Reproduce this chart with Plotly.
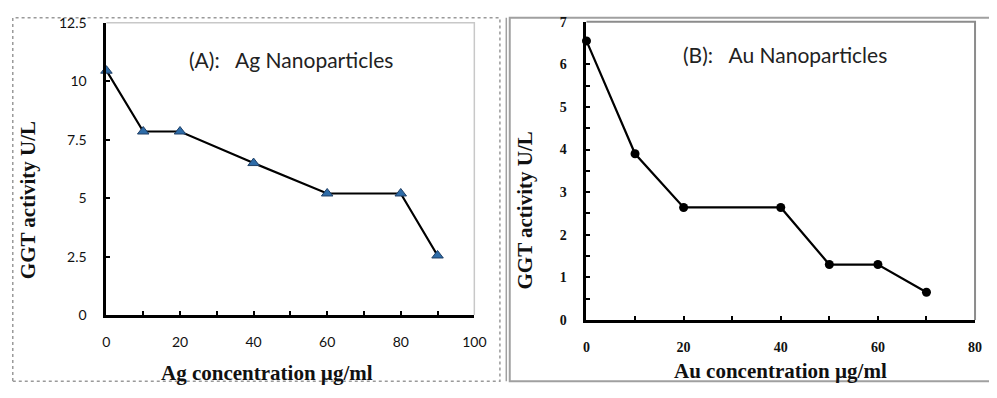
import plotly.graph_objects as go

# Panel A: Ag nanoparticles
ag_conc = [0, 10, 20, 40, 60, 80, 90]
ag_ggt = [10.45, 7.85, 7.85, 6.5, 5.2, 5.2, 2.55]
# Panel B: Au nanoparticles
au_conc = [0, 10, 20, 40, 50, 60, 70]
au_ggt = [6.55, 3.9, 2.64, 2.64, 1.3, 1.3, 0.65]

ag_yticks = [0, 2.5, 5, 7.5, 10, 12.5]
ag_ylabels = ["0", "2.5", "5", "7.5", "10", "12.5"]
ag_xticks = [0, 20, 40, 60, 80, 100]
au_yticks = [0, 1, 2, 3, 4, 5, 6, 7]
au_xticks = [0, 20, 40, 60, 80]

# figure sized so that page (with the browser's 8px body margin) is 997x398
OFF = 8
W, H = 997 - 2 * OFF, 398 - 2 * OFF
def px(x):
    return min(max((x - OFF) / W, 0.0008), 0.9992)
def py(y):
    return min(max(1 - (y - OFF) / H, 0.002), 0.998)

fig = go.Figure()
fig.add_trace(go.Scatter(
    x=ag_conc, y=ag_ggt, mode="lines+markers", xaxis="x", yaxis="y",
    line=dict(color="black", width=2.2),
    marker=dict(symbol="triangle-up", size=10, color="#2e6ca8",
                line=dict(color="#1f3f66", width=1)),
    showlegend=False, cliponaxis=False))
fig.add_trace(go.Scatter(
    x=au_conc, y=au_ggt, mode="lines+markers", xaxis="x2", yaxis="y2",
    line=dict(color="black", width=2.2),
    marker=dict(symbol="circle", size=9, color="black"),
    showlegend=False, cliponaxis=False))

tickfont_a = dict(family="Lato, Open Sans, sans-serif", size=14, color="#111")
tickfont_b = dict(family="Liberation Serif, serif", size=14, color="#111", weight="bold")
title_font = dict(family="Liberation Serif, serif", size=21, color="#111")

common_axis = dict(showgrid=False, zeroline=False, showline=True,
                   linecolor="black", linewidth=3, ticks="inside",
                   tickcolor="black", tickwidth=2, ticklen=4,
                   ticklabeloverflow="allow")

fig.update_layout(
    width=W, height=H, margin=dict(l=0, r=0, t=0, b=0),
    paper_bgcolor="white", plot_bgcolor="white",
    xaxis=dict(domain=[px(104), px(478)], range=[0, 100], anchor="y",
               tickvals=ag_xticks, tickfont=tickfont_a, ticklabelstandoff=12,
               minor=dict(dtick=10, ticks="inside", ticklen=4, tickwidth=2, tickcolor="black"),
               **common_axis),
    yaxis=dict(domain=[py(320), py(14)], range=[0, 12.5], anchor="x",
               tickvals=ag_yticks, ticktext=ag_ylabels, tickfont=tickfont_a,
               ticklabelstandoff=14,
               **common_axis),
    xaxis2=dict(domain=[px(592), px(987)], range=[0, 80], anchor="y2",
                tickvals=au_xticks, tickfont=tickfont_b, ticklabelstandoff=12,
                minor=dict(dtick=10, ticks="inside", ticklen=4, tickwidth=2, tickcolor="black"),
                **common_axis),
    yaxis2=dict(domain=[py(325), py(13)], range=[0, 7], anchor="x2",
                tickvals=au_yticks, tickfont=tickfont_b, ticklabelstandoff=14,
                minor=dict(dtick=0.5, ticks="inside", ticklen=4, tickwidth=2, tickcolor="black"),
                **common_axis),
)

shapes = [
    # panel A outer dotted border
    dict(type="rect", xref="paper", yref="paper", x0=px(7), x1=px(504), y0=py(396), y1=py(1.5),
         line=dict(color="#9a9a9a", width=1.5, dash="dot"), layer="below"),
    # panel B outer double border
    dict(type="line", xref="paper", yref="paper", x0=px(510.5), x1=px(510.5), y0=py(396), y1=py(2),
         line=dict(color="#a0a0a0", width=1.5)),
    dict(type="rect", xref="paper", yref="paper", x0=px(514), x1=1.02, y0=py(395), y1=py(3),
         line=dict(color="#a0a0a0", width=2), layer="below"),
    # plot area frames (top and right)
    dict(type="path", xref="x domain", yref="y domain",
         path="M 0,1 L 1,1 L 1,0", line=dict(color="#c8c8c8", width=1.5), layer="below"),
    dict(type="path", xref="x2 domain", yref="y2 domain",
         path="M 0,1 L 1,1 L 1,0", line=dict(color="#8c8c8c", width=2), layer="below"),
]
fig.update_layout(shapes=shapes)

def ann(text, x, y, font, angle=0):
    return dict(text=text, x=px(x), y=py(y), xref="paper", yref="paper",
                xanchor="center", yanchor="middle", showarrow=False,
                textangle=angle, font=font)

head_font = dict(family="Lato, Open Sans, sans-serif", size=21, color="#222")
annotations = [
    ann("(A):   Ag Nanoparticles", 292, 53, head_font),
    ann("(B):   Au Nanoparticles", 794, 47, head_font),
    ann("<b>Ag concentration µg/ml</b>", 267, 381, title_font),
    ann("<b>Au concentration µg/ml</b>", 789, 379, title_font),
    ann("<b>GGT activity U/L</b>", 25, 200, title_font, -90),
    ann("<b>GGT activity U/L</b>", 530, 210, title_font, -90),
]
fig.update_layout(annotations=annotations)

fig.write_html("out.html", config={"displayModeBar": False})
